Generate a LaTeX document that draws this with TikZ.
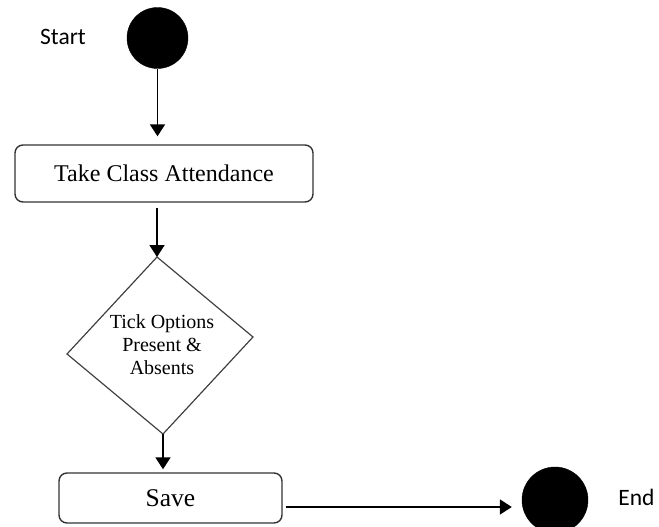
\documentclass[tikz,border=0pt]{standalone}
\usepackage{fontspec}
\setmainfont{Liberation Serif}
\newfontfamily\labelfont{Carlito}
\usetikzlibrary{arrows.meta}
\begin{document}
\begin{tikzpicture}[x=1pt,y=-1pt,
  pseudo/.style={circle,fill=black,draw=black,inner sep=0pt},
  action/.style={draw=black!80,line width=1.4pt,rounded corners=8pt,
    fill=white,inner sep=0pt,font=\fontsize{24}{28}\selectfont},
  tag/.style={font=\labelfont\fontsize{23.5}{28}\selectfont,inner sep=0pt},
  flow/.style={line width=1.8pt,-{Triangle[width=15pt,length=12pt]}}]
  \useasboundingbox (0,0) rectangle (659,527);

  % initial and final states
  \node[pseudo,minimum size=61pt] (start) at (157.5,38) {};
  \node[tag] (startlbl) at (63,37) {Start};
  \node[pseudo,minimum size=66pt] (finish) at (555,500) {};
  \node[tag] (endlbl) at (636.5,497) {End};

  % activities
  \node[action,minimum width=298pt,minimum height=57pt] (take) at (164,173.5) {Take Class Attendance};
  \node[action,minimum width=223pt,minimum height=50pt,font=\fontsize{25.5}{30}\selectfont] (save) at (170.5,498) {Save};

  % decision
  \coordinate (dtop) at (157,257);
  \coordinate (dleft) at (67,354);
  \coordinate (dright) at (253,337);
  \coordinate (dbot) at (163,434);
  \draw[black!75,line width=1.2pt,line join=miter] (dtop) -- (dright) -- (dbot) -- (dleft) -- cycle;
  \node[align=center,inner sep=0pt,font=\fontsize{20}{23}\selectfont] (tick) at (162,345)
    {Tick Options\\Present \&\\Absents};

  % control flow
  \draw[flow,shorten >=8pt] (start.south) -- (start.south |- take.north);
  \draw[flow] ([yshift=-5pt]take.south -| dtop) -- (dtop);
  \draw[flow,shorten >=3pt] (dbot) -- (dbot |- save.north);
  \draw[flow,shorten <=3pt,shorten >=10pt] ([yshift=-9pt]save.east) -- ([yshift=-7pt]finish.west);
\end{tikzpicture}
\end{document}
